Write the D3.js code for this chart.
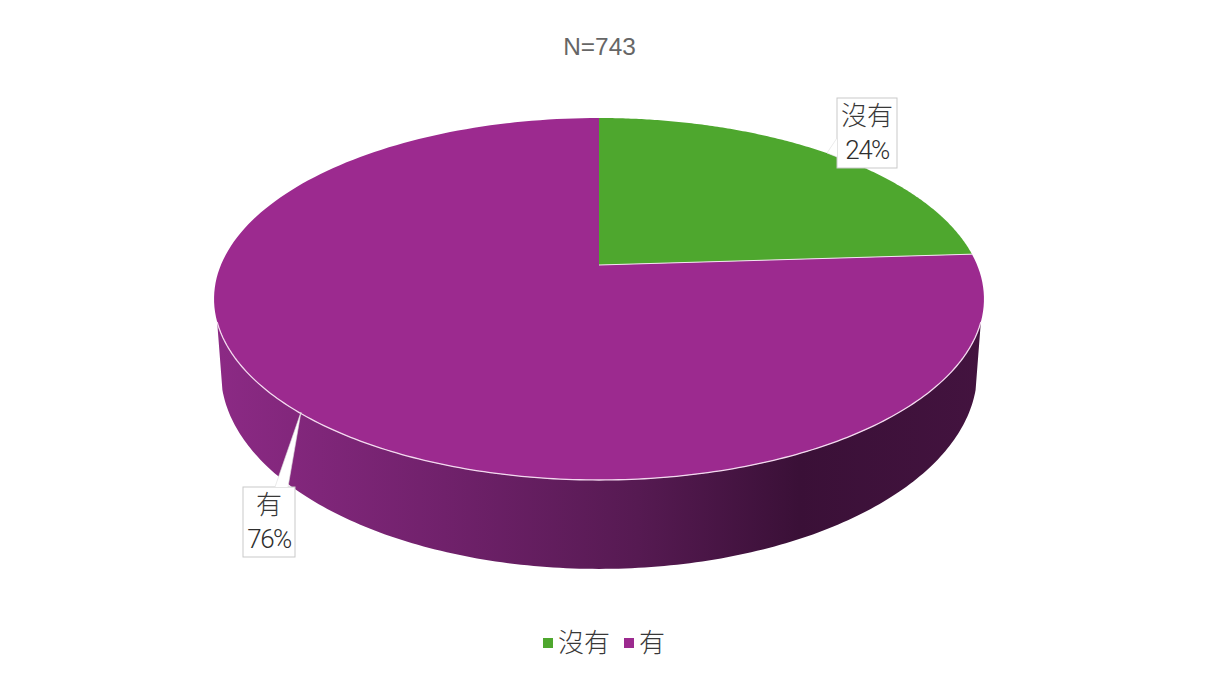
<!DOCTYPE html>
<html>
<head>
<meta charset="utf-8">
<script src="https://cdn.jsdelivr.net/npm/d3@7"></script>
<style>
    body { margin: 0; background: #fff; }
    text { font-family: "Noto Sans CJK TC", sans-serif; font-weight: 300; fill: #383838; }
    .title { font-family: "Liberation Sans", sans-serif; fill: #666; font-weight: 400; }
    .percent { font-family: Roboto, sans-serif; font-weight: 300; fill: #2e2e2e; }
</style>
</head>
<body>
<div class="chart"></div>
<script>
const categories = ["沒有", "有"];
const values = [24, 76];
const colors = ["#4ea72e", "#9c2a8f"];
const title = "N=743";

const outerWidth = 1223;
const outerHeight = 688;

const svg = d3.select(".chart")
    .append("svg")
    .attr("width", outerWidth)
    .attr("height", outerHeight)
    .style("display", "block");

// camera for the tilted disc: rim point (sin, -cos) through a projective map
function projection(cx, a, b, c, k) {
    return angle => {
        const u = Math.sin(angle), v = -Math.cos(angle);
        const w = 1 + c * v;
        return [cx + k * u / w, (a * v + b) / w];
    };
}
const topRim = projection(599, 124.83, 265, -0.18785, 378.1);
const bottomRim = projection(599, 130, 336.5, -0.18, 372);
const apex = [599, 265];

const pie = d3.pie().sort(null).value(d => d);
const slices = pie(values);

const line = d3.line();
const rad = d => d * Math.PI / 180;

function rimPoints(rim, start, end) {
    return d3.range(0, 181).map(i => rim(start + (end - start) * i / 180));
}

const defs = svg.append("defs");
const wallGradient = defs.append("linearGradient")
    .attr("id", "wall")
    .attr("gradientUnits", "userSpaceOnUse")
    .attr("x1", 214).attr("x2", 984).attr("y1", 0).attr("y2", 0);
wallGradient.selectAll("stop")
    .data([[0, "#8c2a85"], [0.3, "#70216b"], [0.55, "#561a52"], [0.76, "#3a1037"], [1, "#43133f"]])
    .join("stop")
    .attr("offset", d => d[0])
    .attr("stop-color", d => d[1]);

// side wall, only the part facing the viewer; the sides are straight edges between the rims
svg.append("path")
    .attr("d", line(rimPoints(topRim, rad(107.9), rad(252.1)).concat(rimPoints(bottomRim, rad(254.5), rad(105.5)))) + "Z")
    .attr("fill", "url(#wall)");

// top face
svg.selectAll(".slice")
    .data(slices)
    .join("path")
    .attr("class", "slice")
    .attr("d", d => line([apex].concat(rimPoints(topRim, d.startAngle, d.endAngle))) + "Z")
    .attr("fill", (d, i) => colors[i]);

// white highlight on the front rim and on the lower edge of the green slice
svg.append("path")
    .attr("d", line(rimPoints(topRim, rad(107.9), rad(252.1))))
    .attr("fill", "none").attr("stroke", "#f3d9ef").attr("stroke-width", 1.3);
svg.append("path")
    .attr("d", line([apex, topRim(slices[0].endAngle)]))
    .attr("fill", "none").attr("stroke", "#f3e6f0").attr("stroke-width", 1);

// callouts: tip sits on the slice, box holds category and percent
const callouts = [
    { box: [837, 98, 60, 70], tip: [827, 153], base: [[837, 138], [837, 157]] },
    { box: [243, 487, 52, 70], tip: [301, 412], base: [[275, 487], [288, 487]] }
];
callouts.forEach((c, i) => {
    const [x, y, w, h] = c.box;
    const g = svg.append("g");
    g.append("rect")
        .attr("x", x).attr("y", y).attr("width", w).attr("height", h)
        .attr("fill", "#fff").attr("stroke", "#c9c9c9");
    g.append("path")
        .attr("d", line([c.base[0], c.tip, c.base[1]]) + "Z")
        .attr("fill", "#fff");
    g.append("path")
        .attr("d", line([c.base[0], c.tip, c.base[1]]))
        .attr("fill", "none").attr("stroke", "#ddd").attr("stroke-width", 0.6);
    g.append("text").text(categories[i])
        .attr("x", x + w / 2).attr("y", y + 27)
        .attr("text-anchor", "middle").attr("font-size", 26);
    g.append("text").text(values[i] + "%")
        .attr("class", "percent")
        .attr("x", x + w / 2).attr("y", y + 61)
        .attr("text-anchor", "middle").attr("font-size", 26)
        .attr("letter-spacing", -1.5);
});

svg.append("text")
    .attr("class", "title")
    .attr("x", 599.5).attr("y", 55)
    .attr("text-anchor", "middle")
    .attr("font-size", 24.4)
    .text(title);

// legend
const legendX = d3.scaleOrdinal().domain(categories).range([543, 624]);
const legend = svg.selectAll(".legend")
    .data(categories)
    .join("g")
    .attr("class", "legend")
    .attr("transform", d => `translate(${legendX(d)}, 638)`);
legend.append("rect")
    .attr("width", 10).attr("height", 10)
    .attr("fill", (d, i) => colors[i]);
legend.append("text")
    .attr("x", 15).attr("y", 14)
    .attr("font-size", 26)
    .text(d => d);
</script>
</body>
</html>
